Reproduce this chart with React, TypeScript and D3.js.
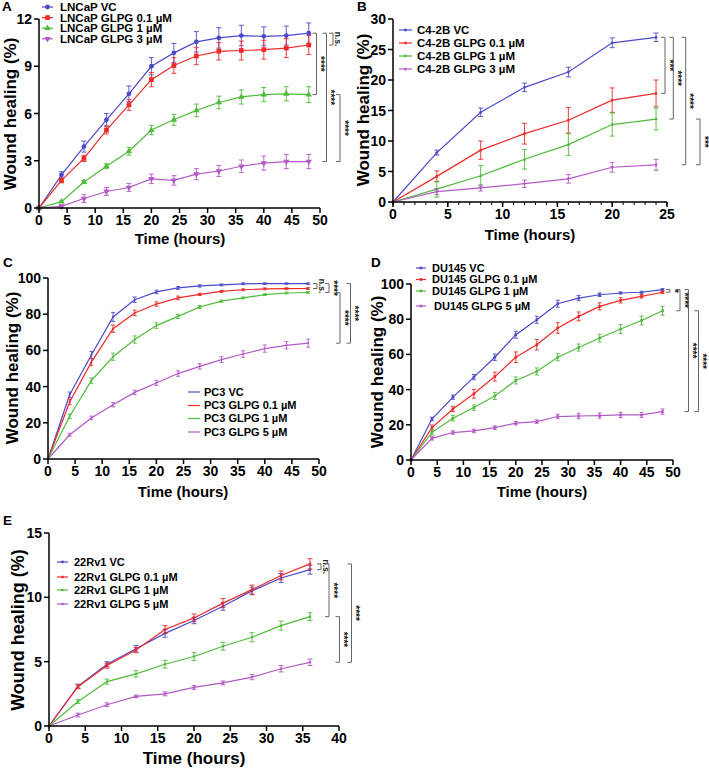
import React from 'react';
import * as d3 from 'd3';

// ---------------- DATA ----------------
const TIMES_48 = [0, 4, 8, 12, 16, 20, 24, 28, 32, 36, 40, 44, 48];
const TIMES_24 = [0, 4, 8, 12, 16, 20, 24];
const TIMES_36 = [0, 4, 8, 12, 16, 20, 24, 28, 32, 36];

// Panel A – LNCaP
const lncapLabels = ['LNCaP VC', 'LNCaP GLPG 0.1 µM', 'LNCaP GLPG 1 µM', 'LNCaP GLPG 3 µM'];
const lncapVC = [0, 2.1, 3.9, 5.6, 7.25, 9.0, 9.85, 10.55, 10.8, 10.95, 10.9, 10.95, 11.1];
const lncapVCErr = [0, 0.2, 0.35, 0.4, 0.5, 0.55, 0.6, 0.65, 0.65, 0.65, 0.6, 0.6, 0.65];
const lncap01 = [0, 1.75, 3.15, 4.95, 6.55, 8.15, 9.05, 9.65, 9.95, 10.0, 10.05, 10.15, 10.35];
const lncap01Err = [0, 0.15, 0.2, 0.25, 0.35, 0.45, 0.5, 0.55, 0.55, 0.6, 0.6, 0.6, 0.6];
const lncap1 = [0, 0.4, 1.65, 2.65, 3.6, 4.95, 5.6, 6.2, 6.7, 7.05, 7.2, 7.25, 7.2];
const lncap1Err = [0, 0.05, 0.1, 0.15, 0.25, 0.3, 0.35, 0.4, 0.4, 0.45, 0.45, 0.45, 0.5];
const lncap3 = [0, 0.1, 0.6, 1.05, 1.3, 1.85, 1.75, 2.15, 2.35, 2.65, 2.85, 2.95, 2.95];
const lncap3Err = [0, 0.1, 0.25, 0.25, 0.25, 0.3, 0.3, 0.35, 0.35, 0.4, 0.45, 0.45, 0.45];
const lncapSig = [
  { a: 0, b: 1, text: 'n.s.' },
  { a: 0, b: 2, text: '****' },
  { a: 0, b: 3, text: '****' },
  { a: 2, b: 3, text: '****' },
];

// Panel B – C4-2B
const c42bLabels = ['C4-2B VC', 'C4-2B GLPG 0.1 µM', 'C4-2B GLPG 1 µM', 'C4-2B GLPG 3 µM'];
const c42bVC = [0, 8.1, 14.7, 18.8, 21.3, 26.1, 27.0];
const c42bVCErr = [0, 0.4, 0.7, 0.7, 0.8, 0.8, 0.7];
const c42b01 = [0, 4.2, 8.5, 11.2, 13.4, 16.7, 17.8];
const c42b01Err = [0, 0.9, 1.5, 1.7, 2.1, 2.0, 2.2];
const c42b1 = [0, 2.1, 4.3, 7.0, 9.4, 12.7, 13.6];
const c42b1Err = [0, 1.3, 1.7, 1.6, 1.8, 1.9, 1.8];
const c42b3 = [0, 1.7, 2.3, 3.0, 3.8, 5.7, 6.1];
const c42b3Err = [0, 0.5, 0.5, 0.6, 0.7, 0.8, 0.9];
const c42bSig = [
  { a: 0, b: 1, text: '***' },
  { a: 0, b: 2, text: '****' },
  { a: 0, b: 3, text: '****' },
  { a: 2, b: 3, text: '***' },
];

// Panel C – PC3
const pc3Labels = ['PC3 VC', 'PC3 GLPG 0.1 µM', 'PC3 GLPG 1 µM', 'PC3 GLPG 5 µM'];
const pc3VC = [0, 35.5, 57.5, 78.5, 88.0, 92.3, 94.5, 95.6, 96.2, 96.8, 96.9, 96.9, 96.9];
const pc3VCErr = [0, 1.5, 2.0, 2.5, 1.5, 1.0, 0.8, 0.6, 0.5, 0.5, 0.4, 0.4, 0.4];
const pc301 = [0, 31.5, 53.5, 72.0, 80.7, 85.6, 89.0, 91.0, 92.6, 93.5, 94.0, 94.1, 94.2];
const pc301Err = [0, 1.5, 2.0, 2.0, 1.5, 1.2, 1.0, 0.6, 0.5, 0.5, 0.5, 0.5, 0.5];
const pc31 = [0, 23.6, 43.3, 56.5, 66.0, 73.7, 78.8, 84.0, 87.2, 89.0, 90.8, 91.7, 92.0];
const pc31Err = [0, 1.2, 1.5, 2.0, 2.0, 1.5, 1.2, 0.8, 0.6, 0.5, 0.5, 0.5, 0.5];
const pc35 = [0, 13.4, 22.7, 30.0, 36.8, 42.0, 47.2, 51.2, 54.9, 58.0, 61.0, 62.8, 64.0];
const pc35Err = [0, 0.8, 1.0, 1.2, 1.2, 1.3, 1.5, 1.5, 1.6, 1.8, 2.0, 2.0, 2.2];
const pc3Sig = [
  { a: 0, b: 1, text: 'n.s.' },
  { a: 0, b: 2, text: '****' },
  { a: 2, b: 3, text: '****' },
  { a: 0, b: 3, text: '****' },
];

// Panel D – DU145
const du145Labels = ['DU145 VC', 'DU145 GLPG 0.1 µM', 'DU145 GLPG 1 µM', 'DU145 GLPG 5 µM'];
const du145VC = [0, 23.3, 35.7, 47.1, 58.4, 71.2, 79.7, 88.8, 92.0, 93.9, 94.9, 95.3, 96.8];
const du145VCErr = [0, 1.0, 1.2, 1.5, 1.8, 2.0, 2.0, 2.0, 1.5, 1.0, 0.5, 0.5, 0.5];
const du14501 = [0, 18.4, 29.0, 37.6, 47.4, 58.4, 65.5, 75.0, 81.6, 87.3, 90.7, 93.0, 95.3];
const du14501Err = [0, 1.5, 1.5, 2.5, 2.5, 3.0, 3.0, 3.0, 2.5, 2.0, 1.5, 1.0, 0.6];
const du1451 = [0, 15.7, 23.7, 29.8, 36.4, 45.2, 50.3, 58.4, 63.9, 69.3, 74.4, 79.3, 84.8];
const du1451Err = [0, 1.5, 1.5, 1.5, 2.0, 2.0, 2.0, 2.0, 2.0, 2.2, 2.5, 2.5, 2.5];
const du1455 = [0, 12.3, 15.6, 16.5, 18.4, 20.9, 21.8, 24.7, 25.0, 25.2, 25.6, 25.6, 27.5];
const du1455Err = [0, 1.0, 1.0, 1.0, 1.0, 1.0, 1.0, 1.3, 1.5, 1.5, 1.5, 1.5, 1.5];
const du145Sig = [
  { a: 0, b: 1, text: '*' },
  { a: 0, b: 2, text: '****' },
  { a: 0, b: 3, text: '****' },
  { a: 2, b: 3, text: '****' },
];

// Panel E – 22Rv1
const rv1Labels = ['22Rv1 VC', '22Rv1 GLPG 0.1 µM', '22Rv1 GLPG 1 µM', '22Rv1 GLPG 5 µM'];
const rv1VC = [0, 3.1, 4.8, 6.0, 7.2, 8.2, 9.3, 10.5, 11.5, 12.15];
const rv1VCErr = [0, 0.15, 0.2, 0.25, 0.3, 0.25, 0.3, 0.3, 0.35, 0.35];
const rv101 = [0, 3.05, 4.7, 5.9, 7.5, 8.4, 9.55, 10.6, 11.7, 12.6];
const rv101Err = [0, 0.15, 0.2, 0.2, 0.3, 0.3, 0.35, 0.35, 0.35, 0.4];
const rv11 = [0, 1.9, 3.45, 4.05, 4.8, 5.4, 6.2, 6.9, 7.8, 8.5];
const rv11Err = [0, 0.15, 0.2, 0.25, 0.3, 0.3, 0.3, 0.35, 0.35, 0.3];
const rv15 = [0, 0.85, 1.65, 2.3, 2.5, 3.0, 3.35, 3.8, 4.45, 4.95];
const rv15Err = [0, 0.15, 0.15, 0.1, 0.15, 0.15, 0.15, 0.2, 0.25, 0.25];
const rv1Sig = [
  { a: 1, b: 0, text: 'n.s.' },
  { a: 1, b: 2, text: '****' },
  { a: 2, b: 3, text: '****' },
  { a: 1, b: 3, text: '****' },
];

const X_TICKS_50 = [0, 5, 10, 15, 20, 25, 30, 35, 40, 45, 50];
const X_TICKS_25 = [0, 5, 10, 15, 20, 25];
const X_TICKS_40 = [0, 5, 10, 15, 20, 25, 30, 35, 40];
const Y_TICKS_A = [0, 3, 6, 9, 12];
const Y_TICKS_B = [0, 5, 10, 15, 20, 25, 30];
const Y_TICKS_100 = [0, 20, 40, 60, 80, 100];
const Y_TICKS_E = [0, 5, 10, 15];

// ---------------- STYLE ----------------
const COLORS = ['#4b4bc9', '#ee2a2a', '#4fbb3b', '#b35ac6'];
const FONT = "Arial, 'Liberation Sans', Helvetica, sans-serif";

type Sym = { type: any; size: number; rotate?: number } | null;

type PanelCfg = {
  letter: string;
  letterPos: [number, number];
  times: number[];
  series: { label: string; values: number[]; errors: number[] }[];
  sig: { a: number; b: number; text: string }[];
  xDomain: [number, number];
  yDomain: [number, number];
  xTicks: number[];
  yTicks: number[];
  xMinor?: number[];
  xr: [number, number];
  yr: [number, number];
  symbols: Sym[];
  legend: { lineX: [number, number]; textX: number; rows: number[]; dx?: number[]; font: number; showMarker: boolean };
  bracketX: number[];
  xTitle: [number, number];
  yTitle: [number, number];
  tickFont: number;
  xTitleFont: number;
  yTitleFont: number;
  cap: number;
};

const sq = d3.symbolSquare;
const ci = d3.symbolCircle;
const tr = d3.symbolTriangle;

const mk = (labels: string[], vals: number[][], errs: number[][]) =>
  labels.map((label, i) => ({ label, values: vals[i], errors: errs[i] }));

const panels: PanelCfg[] = [
  {
    letter: 'A', letterPos: [2, 11],
    times: TIMES_48,
    series: mk(lncapLabels, [lncapVC, lncap01, lncap1, lncap3], [lncapVCErr, lncap01Err, lncap1Err, lncap3Err]),
    sig: lncapSig,
    xDomain: [0, 50], yDomain: [0, 12], xTicks: X_TICKS_50, yTicks: Y_TICKS_A,
    xr: [39, 320], yr: [208, 19],
    symbols: [{ type: ci, size: 18 }, { type: sq, size: 22 }, { type: tr, size: 18 }, { type: tr, size: 18, rotate: 180 }],
    legend: { lineX: [42, 53], textX: 60, rows: [7, 17.6, 28.2, 38.8], font: 11.5, showMarker: true },
    bracketX: [333, 316.5, 326.5, 340],
    xTitle: [180, 244], yTitle: [16, 114],
    tickFont: 14, xTitleFont: 15, yTitleFont: 17, cap: 5,
  },
  {
    letter: 'B', letterPos: [357, 11],
    times: TIMES_24,
    series: mk(c42bLabels, [c42bVC, c42b01, c42b1, c42b3], [c42bVCErr, c42b01Err, c42b1Err, c42b3Err]),
    sig: c42bSig,
    xDomain: [0, 25], yDomain: [0, 30], xTicks: X_TICKS_25, yTicks: Y_TICKS_B,
    xMinor: d3.range(0, 26),
    xr: [393, 667], yr: [202, 19],
    symbols: [{ type: ci, size: 6 }, { type: sq, size: 6 }, { type: tr, size: 6 }, { type: tr, size: 6, rotate: 180 }],
    legend: { lineX: [399, 412], textX: 417, rows: [30, 43, 56, 69], font: 11.5, showMarker: true },
    bracketX: [665, 673.3, 685.7, 700],
    xTitle: [530, 240], yTitle: [369, 110],
    tickFont: 14, xTitleFont: 15, yTitleFont: 17, cap: 5,
  },
  {
    letter: 'C', letterPos: [3, 267],
    times: TIMES_48,
    series: mk(pc3Labels, [pc3VC, pc301, pc31, pc35], [pc3VCErr, pc301Err, pc31Err, pc35Err]),
    sig: pc3Sig,
    xDomain: [0, 50], yDomain: [0, 100], xTicks: X_TICKS_50, yTicks: Y_TICKS_100,
    xr: [48, 319], yr: [459, 278],
    symbols: [{ type: ci, size: 3 }, { type: ci, size: 3 }, { type: ci, size: 3 }, { type: ci, size: 3 }],
    legend: { lineX: [188, 200], textX: 204, rows: [392, 405.5, 418.5, 432], font: 11, showMarker: false },
    bracketX: [317, 329, 340, 350.5],
    xTitle: [183, 497], yTitle: [18, 368],
    tickFont: 14, xTitleFont: 15, yTitleFont: 17, cap: 4,
  },
  {
    letter: 'D', letterPos: [371, 267],
    times: TIMES_48,
    series: mk(du145Labels, [du145VC, du14501, du1451, du1455], [du145VCErr, du14501Err, du1451Err, du1455Err]),
    sig: du145Sig,
    xDomain: [0, 50], yDomain: [0, 100], xTicks: X_TICKS_50, yTicks: Y_TICKS_100,
    xr: [411, 673], yr: [460, 284],
    symbols: [{ type: sq, size: 7 }, { type: sq, size: 7 }, { type: sq, size: 7 }, { type: sq, size: 7 }],
    legend: { lineX: [416, 426], textX: 432, rows: [268, 279.5, 291, 306], dx: [0, 0, 0, 2], font: 11, showMarker: true },
    bracketX: [670, 680, 688.5, 698.5],
    xTitle: [542, 497], yTitle: [383, 372],
    tickFont: 14, xTitleFont: 15, yTitleFont: 17, cap: 4,
  },
  {
    letter: 'E', letterPos: [3, 525],
    times: TIMES_36,
    series: mk(rv1Labels, [rv1VC, rv101, rv11, rv15], [rv1VCErr, rv101Err, rv11Err, rv15Err]),
    sig: rv1Sig,
    xDomain: [0, 40], yDomain: [0, 15], xTicks: X_TICKS_40, yTicks: Y_TICKS_E,
    xr: [49, 339], yr: [726, 533],
    symbols: [{ type: ci, size: 6 }, { type: sq, size: 6 }, { type: ci, size: 5 }, { type: ci, size: 5 }],
    legend: { lineX: [57, 68], textX: 74, rows: [562, 577, 590, 604], font: 11, showMarker: true },
    bracketX: [321, 329, 339.5, 351.5],
    xTitle: [194, 764], yTitle: [24, 630],
    tickFont: 14, xTitleFont: 17, yTitleFont: 18, cap: 5,
  },
];

function symPath(s: Sym) {
  if (!s) return '';
  return d3.symbol().type(s.type).size(s.size)() || '';
}

function Panel({ cfg }: { cfg: PanelCfg }) {
  const x = d3.scaleLinear().domain(cfg.xDomain).range(cfg.xr);
  const y = d3.scaleLinear().domain(cfg.yDomain).range(cfg.yr);
  const line = d3
    .line<[number, number]>()
    .x((d) => x(d[0]))
    .y((d) => y(d[1]));
  const x0 = cfg.xr[0];
  const yBase = cfg.yr[0];
  return (
    <g fontFamily={FONT}>
      <text x={cfg.letterPos[0]} y={cfg.letterPos[1]} fontSize={13.5} fontWeight="bold">
        {cfg.letter}
      </text>

      {cfg.series.map((s, i) => {
        const pts = cfg.times.map((t, k) => [t, s.values[k]] as [number, number]);
        const sym = cfg.symbols[i];
        return (
          <g key={i} stroke={COLORS[i]} fill={COLORS[i]}>
            <path d={line(pts) || ''} fill="none" strokeWidth={1.2} />
            {cfg.times.map((t, k) => {
              const e = s.errors[k];
              if (!e) return null;
              const cx = x(t);
              const hw = cfg.cap / 2;
              return (
                <path
                  key={k}
                  fill="none"
                  strokeWidth={0.9}
                  d={`M${cx},${y(s.values[k] - e)}V${y(s.values[k] + e)}M${cx - hw},${y(s.values[k] - e)}H${cx + hw}M${cx - hw},${y(s.values[k] + e)}H${cx + hw}`}
                />
              );
            })}
            {sym &&
              cfg.times.map((t, k) => (
                <path
                  key={'m' + k}
                  stroke="none"
                  d={symPath(sym)}
                  transform={`translate(${x(t)},${y(s.values[k])}) rotate(${sym.rotate || 0})`}
                />
              ))}
          </g>
        );
      })}

      <g stroke="#000" strokeWidth={1.5} fill="none">
        <path d={`M${x0},${cfg.yr[1]}V${yBase}H${cfg.xr[1]}`} />
        {cfg.xTicks.map((t) => (
          <path key={'xt' + t} d={`M${x(t)},${yBase}v5`} />
        ))}
        {cfg.yTicks.map((t) => (
          <path key={'yt' + t} d={`M${x0},${y(t)}h-5`} />
        ))}
        {(cfg.xMinor || []).map((t) => (
          <path key={'xm' + t} strokeWidth={1} d={`M${x(t)},${yBase}v3`} />
        ))}
      </g>
      <g fontSize={cfg.tickFont} fontWeight="bold" fill="#000">
        {cfg.xTicks.map((t) => (
          <text key={'xl' + t} x={x(t)} y={yBase + 17} textAnchor="middle">
            {t}
          </text>
        ))}
        {cfg.yTicks.map((t) => (
          <text key={'yl' + t} x={x0 - 7} y={y(t)} dy="0.36em" textAnchor="end">
            {t}
          </text>
        ))}
      </g>
      <text x={cfg.xTitle[0]} y={cfg.xTitle[1]} textAnchor="middle" fontSize={cfg.xTitleFont} fontWeight="bold">
        Time (hours)
      </text>
      <text
        transform={`translate(${cfg.yTitle[0]},${cfg.yTitle[1]}) rotate(-90)`}
        textAnchor="middle"
        fontSize={cfg.yTitleFont}
        fontWeight="bold"
      >
        Wound healing (%)
      </text>

      {cfg.series.map((s, i) => {
        const ry = cfg.legend.rows[i];
        const dx = cfg.legend.dx ? cfg.legend.dx[i] : 0;
        const [lx0, lx1] = cfg.legend.lineX;
        const sym = cfg.symbols[i];
        return (
          <g key={'lg' + i}>
            <path d={`M${lx0},${ry}H${lx1}`} stroke={COLORS[i]} strokeWidth={1.2} />
            {cfg.legend.showMarker && sym && (
              <path
                d={symPath(sym)}
                fill={COLORS[i]}
                transform={`translate(${(lx0 + lx1) / 2},${ry}) rotate(${sym.rotate || 0})`}
              />
            )}
            <text x={cfg.legend.textX + dx} y={ry} dy="0.36em" fontSize={cfg.legend.font} fontWeight="bold">
              {s.label}
            </text>
          </g>
        );
      })}

      {cfg.sig.map((b, i) => {
        const bx = cfg.bracketX[i];
        const ya = y(cfg.series[b.a].values[cfg.series[b.a].values.length - 1]);
        const yb = y(cfg.series[b.b].values[cfg.series[b.b].values.length - 1]);
        const mid = (ya + yb) / 2;
        const isNs = b.text === 'n.s.';
        return (
          <g key={'br' + i}>
            <path d={`M${bx - 4},${ya}H${bx}V${yb}H${bx - 4}`} fill="none" stroke="#666" strokeWidth={1} />
            <text
              transform={`translate(${bx + (isNs ? 2 : 0.5)},${mid}) rotate(90)`}
              textAnchor="middle"
              fontSize={isNs ? 8.5 : 10}
              fontWeight="bold"
              fill="#222"
            >
              {b.text}
            </text>
          </g>
        );
      })}
    </g>
  );
}

export default function App() {
  return (
    <svg
      width={709}
      height={772}
      style={{ position: 'absolute', left: 0, top: 0, background: '#fff' }}
    >
      <rect width={709} height={772} fill="#fff" />
      {panels.map((p) => (
        <Panel key={p.letter} cfg={p} />
      ))}
    </svg>
  );
}
